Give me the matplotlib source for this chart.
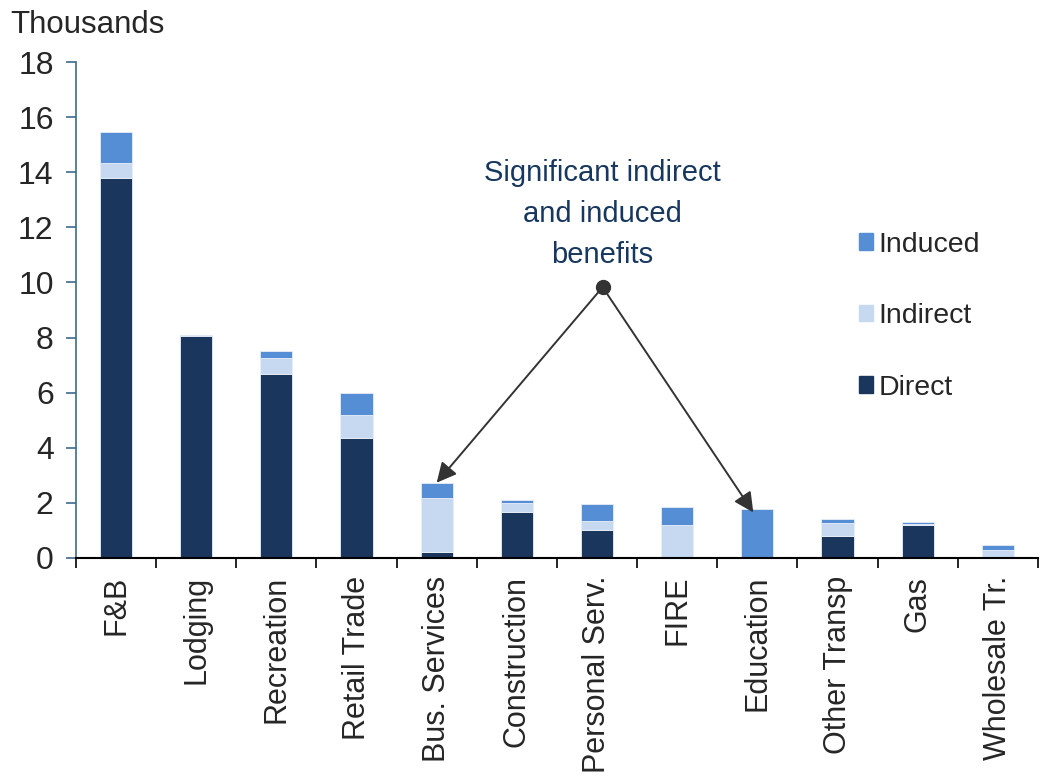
import numpy as np
import matplotlib.pyplot as plt
from matplotlib.patches import Patch

plt.rcParams['font.family'] = ['Liberation Sans', 'DejaVu Sans']

# Jobs supported by sector (thousands)
sectors = ['F&B', 'Lodging', 'Recreation', 'Retail Trade', 'Bus. Services',
           'Construction', 'Personal Serv.', 'FIRE', 'Education',
           'Other Transp', 'Gas', 'Wholesale Tr.']
direct = [13.78, 8.05, 6.66, 4.37, 0.22, 1.67, 1.02, 0.0, 0.0, 0.79, 1.20, 0.0]
indirect = [0.56, 0.02, 0.61, 0.82, 1.97, 0.34, 0.33, 1.21, 0.05, 0.47, 0.04, 0.28]
induced = [1.12, 0.03, 0.23, 0.78, 0.52, 0.08, 0.60, 0.65, 1.72, 0.14, 0.05, 0.18]

c_direct = '#1b365d'
c_indirect = '#c6d9f0'
c_induced = '#558ed5'
txt = '#262626'

x = np.arange(len(sectors))
direct = np.array(direct)
indirect = np.array(indirect)
induced = np.array(induced)
total = direct + indirect + induced

fig = plt.figure(figsize=(10.4, 7.77), dpi=100)
ax = fig.add_axes([0.073, 0.282, 0.925, 0.638])

w = 0.4
ax.bar(x, direct, w, color=c_direct, edgecolor='#e8eef6', linewidth=0.6)
ax.bar(x, indirect, w, bottom=direct, color=c_indirect, edgecolor='#e8eef6', linewidth=0.6)
ax.bar(x, induced, w, bottom=direct + indirect, color=c_induced, edgecolor='#e8eef6', linewidth=0.6)

ax.set_xlim(-0.5, len(sectors) - 0.5)
ax.set_ylim(0, 18)
ax.set_yticks(np.arange(0, 19, 2))
ax.tick_params(axis='y', labelsize=23, length=7, width=1.2, color='#3d6b8c',
               pad=9, labelcolor=txt)

# category labels centred under bars, tick marks between categories
ax.set_xticks(x)
ax.set_xticklabels(sectors, rotation=90, fontsize=22, color=txt)
ax.tick_params(axis='x', which='major', length=0, pad=13)
ax.set_xticks(np.arange(-0.5, len(sectors)), minor=True)
ax.tick_params(axis='x', which='minor', length=7, width=1.2, color='black')

for s in ['top', 'right']:
    ax.spines[s].set_visible(False)
ax.spines['left'].set_color('#3d6b8c')
ax.spines['left'].set_linewidth(1.2)
ax.spines['bottom'].set_color('black')
ax.spines['bottom'].set_linewidth(1.5)

fig.text(0.01, 0.968, 'Thousands', fontsize=22.5, color=txt, va='center')

# annotation pointing at the two sectors
hub = (6.07, 9.83)
ax.plot(*hub, 'o', color='#333333', markersize=10, zorder=5)
ax.text(6.07, 12.48, 'Significant indirect\nand induced\nbenefits', ha='center',
        va='center', fontsize=21, color='#17375e', linespacing=1.6)
for tx, ty in [(4.0, total[4] + 0.02), (7.95, total[8] - 0.12)]:
    ax.annotate('', xy=(tx, ty), xytext=hub,
                arrowprops=dict(arrowstyle='-|>', color='#333333', lw=1.4,
                                mutation_scale=30, shrinkA=0, shrinkB=0))

handles = [Patch(color=c_induced), Patch(color=c_indirect), Patch(color=c_direct)]
ax.legend(handles, ['Induced', 'Indirect', 'Direct'], loc='upper left',
          bbox_to_anchor=(0.787, 0.71), frameon=False, fontsize=20.5,
          handlelength=0.5, handleheight=0.5, labelspacing=1.6, handletextpad=0.2,
          labelcolor=txt)

fig.savefig('out.png', dpi=100)
